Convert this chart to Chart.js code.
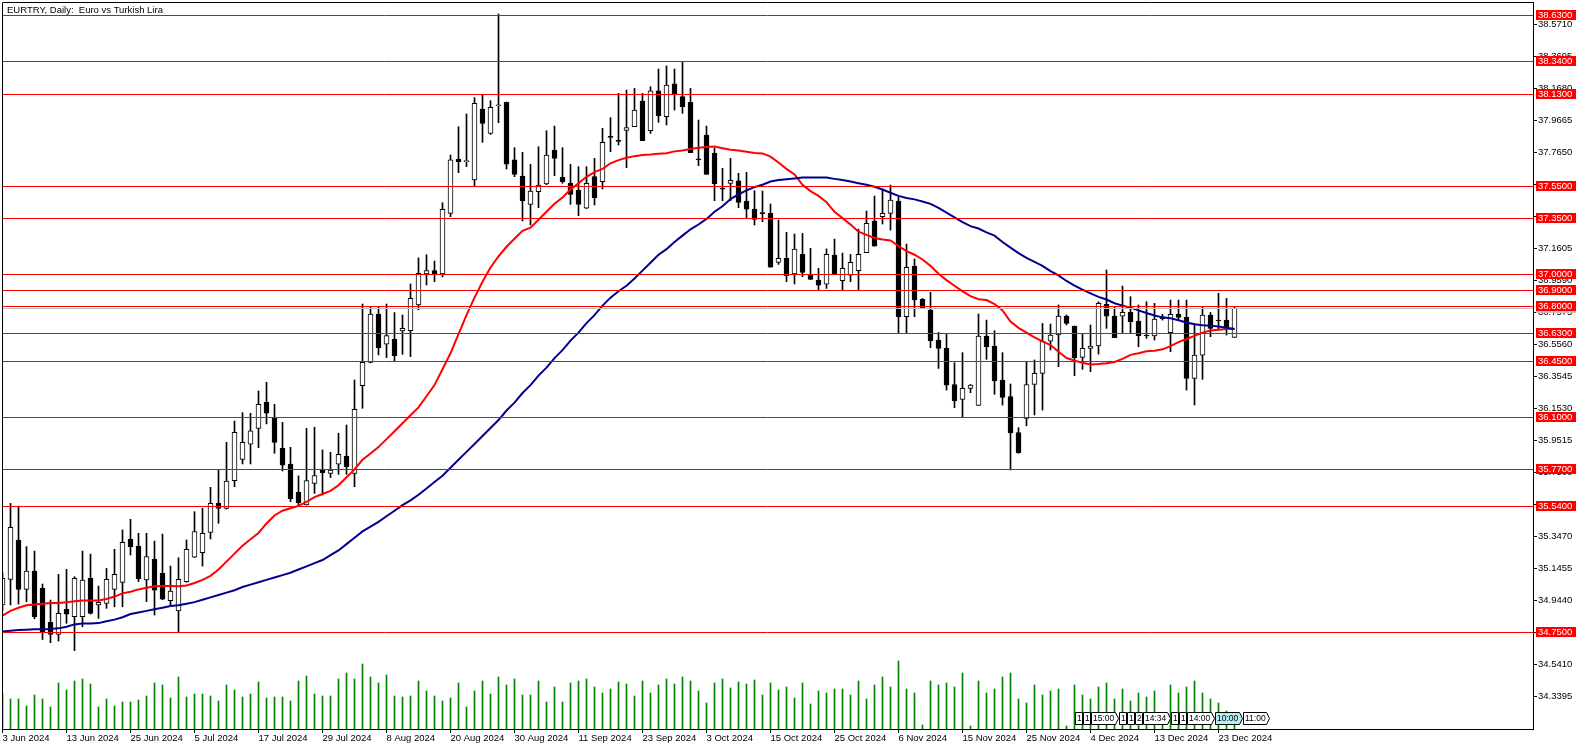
<!DOCTYPE html>
<html>
<head>
<meta charset="utf-8">
<title>EURTRY, Daily</title>
<script src="https://cdn.jsdelivr.net/npm/chart.js@4.4.1/dist/chart.umd.min.js"></script>
<style>
  html, body { margin: 0; padding: 0; background: #fff; }
  #wrap { width: 1586px; height: 750px; position: relative; }
</style>
</head>
<body>
<div id="wrap"><canvas id="chart"></canvas></div>
<script>
const title = "EURTRY, Daily:  Euro vs Turkish Lira";

// daily candles, one per bar index
const opens = [
  34.917, 35.078, 35.326, 35.015, 35.131, 35.022, 34.808, 34.732, 34.890, 34.843,
  34.843, 35.085, 34.917, 34.927, 35.015, 35.059, 35.330, 35.288, 35.074, 35.204,
  35.116, 34.944, 34.879, 35.063, 35.217, 35.246, 35.374, 35.557, 35.525, 35.699,
  35.833, 35.928, 36.028, 36.192, 36.091, 35.903, 35.804, 35.626, 35.546, 35.682,
  35.766, 35.745, 35.802, 35.854, 35.745, 36.297, 36.443, 36.747, 36.557, 36.588,
  36.640, 36.643, 36.804, 37.000, 37.020, 37.000, 37.380, 37.720, 37.705, 37.590,
  38.036, 37.883, 38.057, 38.078, 37.716, 37.615, 37.437, 37.516, 37.565, 37.778,
  37.607, 37.569, 37.527, 37.412, 37.611, 37.579, 37.862, 37.837, 37.902, 37.925,
  38.087, 37.900, 38.150, 37.988, 38.194, 38.114, 38.078, 37.720, 37.873, 37.758,
  37.537, 37.569, 37.584, 37.458, 37.407, 37.382, 37.380, 37.072, 37.097, 36.999,
  37.122, 36.992, 36.961, 36.934, 37.118, 36.956, 36.992, 37.019, 37.133, 37.332,
  37.359, 37.380, 37.457, 36.730, 37.049, 36.839, 36.772, 36.583, 36.531, 36.304,
  36.210, 36.279, 36.172, 36.608, 36.545, 36.331, 36.227, 36.002, 36.091, 36.305,
  36.374, 36.577, 36.615, 36.734, 36.671, 36.474, 36.531, 36.546, 36.808, 36.734,
  36.734, 36.757, 36.703, 36.613, 36.609, 36.722, 36.630, 36.745, 36.726, 36.342,
  36.489, 36.741, 36.707, 36.709, 36.600
];
const highs = [
  35.120, 35.556, 35.539, 35.284, 35.256, 35.049, 34.948, 35.110, 35.141, 35.095,
  35.256, 35.237, 35.036, 35.147, 35.267, 35.389, 35.456, 35.368, 35.368, 35.319,
  35.363, 35.162, 35.214, 35.326, 35.504, 35.525, 35.657, 35.766, 35.940, 36.074,
  36.127, 36.123, 36.263, 36.318, 36.179, 36.066, 35.909, 35.729, 36.028, 36.035,
  35.892, 35.877, 35.997, 36.049, 36.332, 36.810, 36.793, 36.793, 36.810, 36.756,
  36.741, 36.936, 37.100, 37.120, 37.080, 37.447, 37.747, 37.925, 38.005, 38.108,
  38.124, 38.089, 38.634, 38.080, 37.793, 37.764, 37.688, 37.799, 37.900, 37.929,
  37.793, 37.688, 37.674, 37.674, 37.726, 37.915, 37.982, 38.135, 38.156, 38.166,
  38.135, 38.177, 38.288, 38.307, 38.288, 38.334, 38.166, 37.967, 37.929, 37.789,
  37.663, 37.726, 37.632, 37.638, 37.523, 37.521, 37.439, 37.338, 37.261, 37.250,
  37.254, 37.160, 37.034, 37.156, 37.218, 37.130, 37.122, 37.281, 37.395, 37.489,
  37.533, 37.558, 37.485, 37.187, 37.093, 36.845, 36.883, 36.631, 36.621, 36.441,
  36.504, 36.304, 36.747, 36.709, 36.642, 36.504, 36.307, 36.032, 36.447, 36.458,
  36.688, 36.684, 36.804, 36.741, 36.671, 36.621, 36.678, 36.824, 37.024, 36.793,
  36.923, 36.856, 36.804, 36.824, 36.814, 36.745, 36.835, 36.835, 36.835, 36.688,
  36.793, 36.757, 36.877, 36.845, 36.793
];
const lows = [
  34.880, 34.917, 34.923, 34.938, 34.830, 34.700, 34.680, 34.690, 34.802, 34.630,
  34.780, 34.860, 34.833, 34.896, 34.906, 34.906, 35.231, 35.064, 34.938, 34.854,
  34.950, 34.913, 34.749, 35.060, 35.215, 35.162, 35.332, 35.431, 35.520, 35.661,
  35.804, 35.804, 35.907, 36.056, 35.871, 35.760, 35.567, 35.536, 35.545, 35.619,
  35.609, 35.718, 35.739, 35.739, 35.661, 36.154, 36.440, 36.490, 36.473, 36.452,
  36.494, 36.479, 36.773, 36.930, 36.950, 36.980, 37.359, 37.636, 37.674, 37.554,
  37.827, 37.877, 37.950, 37.659, 37.611, 37.332, 37.307, 37.416, 37.560, 37.617,
  37.569, 37.437, 37.365, 37.410, 37.433, 37.533, 37.768, 37.810, 37.667, 37.925,
  37.837, 37.883, 37.953, 37.936, 38.030, 38.009, 37.762, 37.680, 37.625, 37.460,
  37.460, 37.460, 37.416, 37.349, 37.307, 37.328, 37.041, 37.059, 36.950, 36.936,
  36.982, 36.965, 36.898, 36.908, 36.998, 36.898, 36.950, 36.898, 37.133, 37.174,
  37.313, 37.275, 36.629, 36.629, 36.730, 36.782, 36.535, 36.405, 36.269, 36.158,
  36.101, 36.252, 36.172, 36.462, 36.242, 36.174, 35.766, 35.871, 36.044, 36.112,
  36.143, 36.521, 36.416, 36.678, 36.359, 36.399, 36.384, 36.495, 36.657, 36.598,
  36.630, 36.625, 36.541, 36.594, 36.583, 36.709, 36.510, 36.709, 36.269, 36.175,
  36.336, 36.604, 36.646, 36.615, 36.600
];
const closes = [
  35.085, 35.405, 35.015, 35.131, 34.843, 34.749, 34.732, 34.864, 34.860, 35.085,
  35.074, 34.864, 34.934, 35.078, 35.110, 35.311, 35.284, 35.082, 35.221, 35.011,
  34.953, 35.005, 35.078, 35.267, 35.378, 35.368, 35.556, 35.525, 35.697, 36.003,
  35.940, 36.012, 36.179, 36.123, 35.940, 35.796, 35.586, 35.561, 35.699, 35.731,
  35.749, 35.766, 35.865, 35.787, 36.148, 36.443, 36.747, 36.536, 36.611, 36.485,
  36.657, 36.846, 37.003, 37.020, 37.000, 37.405, 37.716, 37.705, 37.710, 38.072,
  37.946, 38.047, 38.060, 37.690, 37.625, 37.460, 37.521, 37.558, 37.747, 37.726,
  37.579, 37.500, 37.437, 37.569, 37.479, 37.827, 37.858, 37.833, 37.919, 38.030,
  37.837, 38.150, 37.994, 38.187, 38.131, 38.051, 37.762, 37.716, 37.625, 37.567,
  37.533, 37.588, 37.449, 37.407, 37.342, 37.378, 37.041, 37.097, 36.988, 37.156,
  37.009, 36.965, 36.929, 37.122, 36.998, 37.034, 37.072, 37.122, 37.317, 37.174,
  37.380, 37.464, 36.730, 37.040, 36.835, 36.787, 36.579, 36.531, 36.300, 36.202,
  36.279, 36.300, 36.608, 36.541, 36.327, 36.223, 36.000, 35.875, 36.304, 36.374,
  36.577, 36.615, 36.734, 36.688, 36.472, 36.531, 36.546, 36.814, 36.734, 36.598,
  36.757, 36.699, 36.611, 36.609, 36.715, 36.718, 36.745, 36.726, 36.342, 36.489,
  36.741, 36.657, 36.703, 36.657, 36.783
];

// tick volume
const volumes = [
  3600, 3000, 3000, 2300, 3400, 3000, 2200, 4600, 3900, 4800,
  5000, 4500, 2200, 3000, 2300, 2700, 2700, 2900, 3300, 4600,
  4400, 3100, 5200, 3200, 3500, 3500, 3300, 2800, 4400, 3900,
  3200, 3500, 4700, 3100, 3200, 3200, 2800, 4800, 5300, 3500,
  3300, 3300, 5000, 5600, 5000, 6500, 5200, 4600, 5400, 3300,
  3200, 3300, 4800, 3800, 3300, 2800, 3100, 4600, 2200, 3800,
  4800, 3500, 5200, 4400, 5000, 3400, 3400, 4800, 2700, 4200,
  2700, 4600, 4800, 5000, 4200, 3600, 4000, 4700, 4500, 3300,
  4800, 3600, 4400, 5000, 4500, 5200, 4800, 3800, 2600, 4600,
  5000, 4100, 4700, 4500, 4900, 3400, 4600, 3900, 4200, 3100,
  4600, 2500, 3800, 3600, 4000, 4000, 3400, 4800, 3000, 4400,
  5200, 4200, 6800, 4000, 3600, 400, 4800, 4400, 4600, 4200,
  5600, 300, 4800, 3600, 4000, 5200, 5600, 3000, 2600, 4400,
  3400, 3800, 4000, 300, 4400, 3400, 3000, 4200, 4600, 3000,
  4000, 2800, 3600, 3200, 3800, 400, 4400, 3600, 4200, 4800,
  3600, 3000, 2600, 1800, 1000
];

// moving averages (red = fast, blue = slow)
const maFast = [
  34.85, 34.88, 34.90, 34.915, 34.92, 34.925, 34.93, 34.93, 34.935, 34.94,
  34.945, 34.945, 34.945, 34.955, 34.97, 34.99, 35.00, 35.015, 35.025, 35.035,
  35.036, 35.036, 35.035, 35.04, 35.055, 35.075, 35.10, 35.14, 35.19, 35.24,
  35.29, 35.33, 35.37, 35.43, 35.48, 35.51, 35.525, 35.54, 35.565, 35.595,
  35.615, 35.635, 35.67, 35.72, 35.77, 35.83, 35.87, 35.91, 35.96, 36.01,
  36.06, 36.11, 36.16, 36.23, 36.30, 36.40, 36.50, 36.62, 36.74, 36.85,
  36.95, 37.04, 37.11, 37.17, 37.22, 37.27, 37.29, 37.34, 37.39, 37.44,
  37.48, 37.53, 37.57, 37.61, 37.64, 37.66, 37.695, 37.715, 37.73, 37.74,
  37.747, 37.75, 37.755, 37.758, 37.77, 37.775, 37.785, 37.793, 37.798, 37.80,
  37.79, 37.78, 37.775, 37.768, 37.76, 37.757, 37.737, 37.70, 37.66, 37.625,
  37.56, 37.52, 37.49, 37.45, 37.39, 37.35, 37.31, 37.265, 37.245, 37.225,
  37.216, 37.21, 37.175, 37.143, 37.12, 37.09, 37.05, 37.00, 36.96, 36.925,
  36.89, 36.86, 36.84, 36.835, 36.81, 36.77, 36.70, 36.66, 36.63, 36.60,
  36.575, 36.552, 36.51, 36.47, 36.455, 36.44, 36.43, 36.432, 36.437, 36.445,
  36.465, 36.49, 36.50, 36.513, 36.516, 36.525, 36.545, 36.57, 36.59, 36.61,
  36.63, 36.643, 36.648, 36.653, 36.655
];
const maSlow = [
  34.75, 34.755, 34.76, 34.762, 34.764, 34.765, 34.766, 34.77, 34.78, 34.795,
  34.80, 34.80, 34.803, 34.815, 34.825, 34.84, 34.86, 34.87, 34.88, 34.89,
  34.90, 34.91, 34.915, 34.925, 34.935, 34.95, 34.965, 34.98, 34.995, 35.01,
  35.03, 35.045, 35.06, 35.075, 35.09, 35.105, 35.12, 35.14, 35.16, 35.18,
  35.20, 35.23, 35.26, 35.30, 35.34, 35.38, 35.41, 35.44, 35.475, 35.51,
  35.545, 35.575, 35.61, 35.65, 35.69, 35.73, 35.78, 35.83, 35.88, 35.93,
  35.98, 36.03, 36.08, 36.14, 36.19, 36.25, 36.30, 36.36, 36.41, 36.47,
  36.52, 36.58, 36.63, 36.69, 36.74, 36.80, 36.85, 36.89, 36.925, 36.97,
  37.02, 37.07, 37.12, 37.155, 37.20, 37.24, 37.28, 37.31, 37.345, 37.39,
  37.425, 37.47, 37.50, 37.525, 37.545, 37.56, 37.58, 37.59, 37.595, 37.60,
  37.605, 37.605, 37.605, 37.605, 37.597, 37.59, 37.58, 37.57, 37.56, 37.547,
  37.53, 37.51, 37.49, 37.477, 37.468, 37.455, 37.44, 37.415, 37.385, 37.355,
  37.325, 37.30, 37.285, 37.26, 37.24, 37.20, 37.165, 37.13, 37.10, 37.075,
  37.05, 37.017, 36.99, 36.955, 36.925, 36.90, 36.877, 36.855, 36.838, 36.815,
  36.80, 36.787, 36.77, 36.753, 36.738, 36.726, 36.72, 36.708, 36.694, 36.683,
  36.677, 36.674, 36.668, 36.66, 36.653
];

// horizontal levels drawn on the chart
const levels = [38.63, 38.34, 38.13, 37.55, 37.35, 37.00, 36.90, 36.80, 36.63, 36.45, 36.10, 35.77, 35.54, 34.75];

// axis labels
const priceTicks = [34.3395, 34.5410, 34.7425, 34.9440, 35.1455, 35.3470, 35.5485, 35.7500, 35.9515, 36.1530,
  36.3545, 36.5560, 36.7575, 36.9590, 37.1605, 37.3620, 37.5635, 37.7650, 37.9665, 38.1680, 38.3695, 38.5710];
const dateLabels = ["3 Jun 2024", "13 Jun 2024", "25 Jun 2024", "5 Jul 2024", "17 Jul 2024", "29 Jul 2024",
  "8 Aug 2024", "20 Aug 2024", "30 Aug 2024", "11 Sep 2024", "23 Sep 2024", "3 Oct 2024", "15 Oct 2024",
  "25 Oct 2024", "6 Nov 2024", "15 Nov 2024", "25 Nov 2024", "4 Dec 2024", "13 Dec 2024", "23 Dec 2024"];
const dateBars = [0, 8, 16, 24, 32, 40, 48, 56, 64, 72, 80, 88, 96, 104, 112, 120, 128, 136, 144, 152];

// markers on the time scale near the end
const eventLabels = ["1", "1", "15:00", "1", "1", "2", "14:34", "1", "1", "14:00", "10:00", "11:00"];
const eventStartBar = 134;
const eventHighlight = "10:00";

const FONT = '"Liberation Sans", Arial, sans-serif';
Chart.defaults.font.family = FONT;
Chart.defaults.font.size = 9.5;
Chart.defaults.color = '#000';

const idx = closes.map((_, i) => i);
const bid = closes[closes.length - 1];

const overlay = {
  id: 'overlay',
  afterDatasetsDraw(chart) {
    const { ctx, chartArea: a, scales: { y } } = chart;
    ctx.save();
    ctx.lineWidth = 1;
    let py = Math.round(y.getPixelForValue(bid)) + 0.5;
    ctx.strokeStyle = '#c0c0c0';
    ctx.beginPath(); ctx.moveTo(a.left, py); ctx.lineTo(a.right, py); ctx.stroke();
    ctx.strokeStyle = '#ff0000';
    levels.forEach(v => {
      const ly = Math.round(y.getPixelForValue(v)) + 0.5;
      ctx.beginPath(); ctx.moveTo(a.left, ly); ctx.lineTo(a.right, ly); ctx.stroke();
    });
    ctx.restore();
  },
  afterDraw(chart) {
    const { ctx, chartArea: a, scales: { x, y } } = chart;
    ctx.save();
    // frame
    ctx.strokeStyle = '#000';
    ctx.lineWidth = 1;
    ctx.beginPath();
    ctx.moveTo(a.left + 0.5, a.bottom); ctx.lineTo(a.left + 0.5, a.top + 0.5); ctx.lineTo(a.right, a.top + 0.5);
    ctx.stroke();

    // title
    ctx.font = '9.5px ' + FONT;
    ctx.fillStyle = '#000';
    ctx.textBaseline = 'middle';
    ctx.textAlign = 'left';
    ctx.fillText(title, 7, 10);

    // price labels on the axis
    const drawTag = (v, bg, fg) => {
      const py = Math.round(y.getPixelForValue(v));
      ctx.fillStyle = bg;
      ctx.fillRect(a.right + 3, py - 5, 40, 10);
      ctx.fillStyle = fg;
      ctx.fillText(v.toFixed(4), a.right + 5, py + 0.5);
    };
    drawTag(bid, '#c0c0c0', '#000');
    levels.forEach(v => drawTag(v, '#ff0000', '#fff'));

    // time markers
    ctx.font = '8.5px ' + FONT;
    let ex = Math.round(x.getPixelForValue(eventStartBar)) + 0.5;
    const top = a.bottom - 16.5, bot = a.bottom - 4.5, mid = (top + bot) / 2;
    eventLabels.forEach(t => {
      const timeLike = t.includes(':');
      const w = Math.round(ctx.measureText(t).width + 2.5);
      ctx.beginPath();
      ctx.moveTo(ex, top); ctx.lineTo(ex + w, top);
      if (timeLike) ctx.lineTo(ex + w + 3, mid);
      ctx.lineTo(ex + w, bot); ctx.lineTo(ex, bot); ctx.closePath();
      ctx.fillStyle = t === eventHighlight ? '#b4eef0' : '#fff';
      ctx.fill();
      ctx.strokeStyle = '#000';
      ctx.stroke();
      ctx.fillStyle = '#000';
      ctx.fillText(t, ex + 1.5, mid + 0.5);
      ex += w + (timeLike ? 4 : 1);
    });
    ctx.restore();
  }
};

new Chart(document.getElementById('chart'), {
  type: 'bar',
  data: {
    datasets: [
      {
        type: 'bar', label: 'Volume', yAxisID: 'yv',
        data: idx.map(i => ({ x: i, y: volumes[i] })),
        backgroundColor: '#008000', barThickness: 1, grouped: false, order: 6
      },
      {
        type: 'bar', label: 'Range', yAxisID: 'y',
        data: idx.map(i => ({ x: i, y: [lows[i], highs[i]] })),
        backgroundColor: '#000', barThickness: 1, grouped: false, order: 5
      },
      {
        type: 'bar', label: 'Body', yAxisID: 'y',
        data: idx.map(i => ({ x: i, y: [opens[i], closes[i]] })),
        backgroundColor: idx.map(i => closes[i] >= opens[i] ? '#fff' : '#000'),
        borderColor: '#000', borderWidth: 1, borderSkipped: false,
        barThickness: 5, minBarLength: 1, grouped: false, order: 4
      },
      {
        type: 'line', label: 'MA fast', yAxisID: 'y',
        data: idx.map(i => ({ x: i, y: maFast[i] })),
        borderColor: '#ff0000', borderWidth: 2, pointRadius: 0, tension: 0, order: 3
      },
      {
        type: 'line', label: 'MA slow', yAxisID: 'y',
        data: idx.map(i => ({ x: i, y: maSlow[i] })),
        borderColor: '#00008b', borderWidth: 2, pointRadius: 0, tension: 0, order: 2
      }
    ]
  },
  options: {
    responsive: true,
    maintainAspectRatio: false,
    animation: false,
    layout: { padding: { left: 2, top: 2, right: 0, bottom: 0 } },
    plugins: { legend: { display: false }, tooltip: { enabled: false } },
    scales: {
      x: {
        type: 'linear', min: -0.0625, max: 191.3125, offset: false,
        afterBuildTicks: s => { s.ticks = dateBars.map(v => ({ value: v })); },
        afterFit: s => { s.height = 21; s.paddingLeft = 0; s.paddingRight = 0; },
        ticks: {
          autoSkip: false, maxRotation: 0, minRotation: 0, align: 'start', padding: 0,
          color: '#000', font: { size: 9.5 },
          callback: v => dateLabels[dateBars.indexOf(v)]
        },
        grid: { drawOnChartArea: false, drawTicks: true, tickLength: 4, color: '#000', offset: false },
        border: { display: true, color: '#000', width: 1 }
      },
      y: {
        type: 'linear', position: 'right', min: 34.1371, max: 38.7094,
        afterBuildTicks: s => { s.ticks = priceTicks.map(v => ({ value: v })); },
        afterFit: s => { s.width = 53; s.paddingTop = 0; s.paddingBottom = 0; },
        ticks: { autoSkip: false, padding: 1, color: '#000', font: { size: 9.5 }, callback: v => v.toFixed(4) },
        grid: { drawOnChartArea: false, drawTicks: true, tickLength: 4, color: '#000' },
        border: { display: true, color: '#000', width: 1 }
      },
      yv: { type: 'linear', display: false, min: 0, max: 72700 }
    }
  },
  plugins: [overlay]
});
</script>
</body>
</html>
